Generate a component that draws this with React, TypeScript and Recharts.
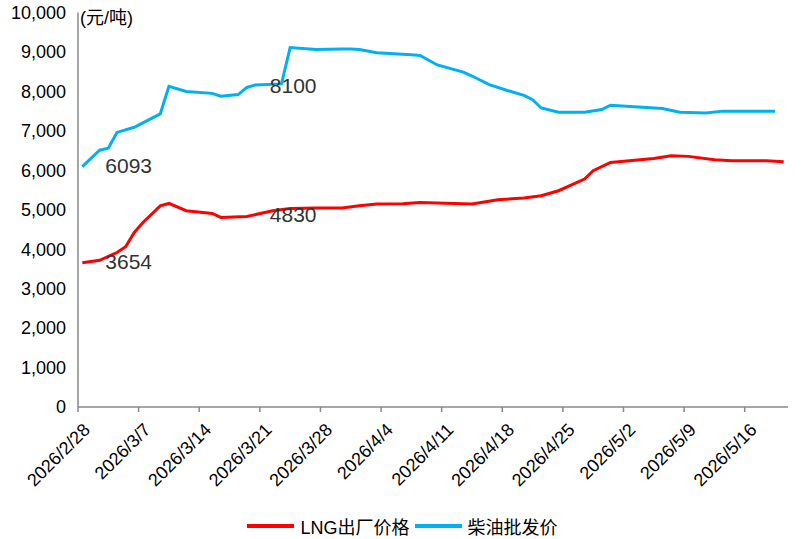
import { LineChart, Line, XAxis, YAxis, Legend, LabelList } from 'recharts';

// 日期轴：2026/2/28 起，按天
const firstDay = '2026/2/28';
const lastDay = '2026/5/20';
const tickDates = [
  '2026/2/28', '2026/3/7', '2026/3/14', '2026/3/21', '2026/3/28', '2026/4/4',
  '2026/4/11', '2026/4/18', '2026/4/25', '2026/5/2', '2026/5/9', '2026/5/16',
];
const yTicks = [0, 1000, 2000, 3000, 4000, 5000, 6000, 7000, 8000, 9000, 10000];
const labelDates = ['2026/2/28', '2026/3/19'];

// LNG出厂价格 (元/吨)
const lngDates = [
  '2026/2/28', '2026/3/2', '2026/3/4', '2026/3/5', '2026/3/6', '2026/3/7', '2026/3/9',
  '2026/3/10', '2026/3/12', '2026/3/15', '2026/3/16', '2026/3/19', '2026/3/22', '2026/3/24',
  '2026/3/27', '2026/3/30', '2026/4/1', '2026/4/3', '2026/4/6', '2026/4/8', '2026/4/14',
  '2026/4/17', '2026/4/20', '2026/4/22', '2026/4/24', '2026/4/27', '2026/4/28', '2026/4/30',
  '2026/5/5', '2026/5/7', '2026/5/9', '2026/5/12', '2026/5/14', '2026/5/18', '2026/5/20',
];
const lngValues = [
  3654, 3720, 3916, 4061, 4424, 4678, 5100,
  5160, 4975, 4906, 4805, 4830, 4975, 5033,
  5043, 5043, 5102, 5144, 5150, 5185, 5144,
  5254, 5296, 5355, 5482, 5779, 5990, 6200,
  6302, 6370, 6353, 6269, 6244, 6244, 6218,
];

// 柴油批发价 (元/吨)
const dieselDates = [
  '2026/2/28', '2026/3/2', '2026/3/3', '2026/3/4', '2026/3/6', '2026/3/9', '2026/3/10',
  '2026/3/12', '2026/3/15', '2026/3/16', '2026/3/18', '2026/3/19', '2026/3/20', '2026/3/23',
  '2026/3/24', '2026/3/27', '2026/3/30', '2026/3/31', '2026/4/1', '2026/4/3', '2026/4/7',
  '2026/4/8', '2026/4/10', '2026/4/13', '2026/4/14', '2026/4/16', '2026/4/18', '2026/4/20',
  '2026/4/21', '2026/4/22', '2026/4/24', '2026/4/27', '2026/4/29', '2026/4/30', '2026/5/6',
  '2026/5/8', '2026/5/11', '2026/5/13', '2026/5/19',
];
const dieselValues = [
  6093, 6510, 6560, 6960, 7090, 7430, 8130,
  8000, 7950, 7880, 7920, 8100, 8165, 8190,
  9110, 9060, 9075, 9075, 9060, 8980, 8926,
  8910, 8670, 8490, 8390, 8170, 8030, 7900,
  7790, 7580, 7470, 7470, 7540, 7650, 7565,
  7470, 7455, 7500, 7500,
];

const LNG_COLOR = '#FF0000';
const DIESEL_COLOR = '#00B0F0';
const AXIS_COLOR = '#898989';
const FONT = '"Liberation Sans", Arial, "Noto Sans CJK SC", sans-serif';

function dayIndex(date: string): number {
  const [y, m, d] = date.split('/').map(Number);
  const [y0, m0, d0] = firstDay.split('/').map(Number);
  return Math.round((Date.UTC(y, m - 1, d) - Date.UTC(y0, m0 - 1, d0)) / 86400000);
}

const toRows = (dates: string[], values: number[]) =>
  dates.map((date, i) => ({ x: dayIndex(date), v: values[i], date }));

const lngData = toRows(lngDates, lngValues);
const dieselData = toRows(dieselDates, dieselValues);

// Excel 日期轴：刻度在日格边界，数据点在日格中间
const xTicks = tickDates.map((d) => dayIndex(d) - 0.5);
const xDomain = [-0.5, dayIndex(lastDay) + 0.5];

function XTick({ x, y, payload }: any) {
  const label = tickDates[xTicks.indexOf(payload.value)] ?? '';
  return (
    <g transform={`translate(${x + 13},${y + 17})`}>
      <text transform="rotate(-45)" textAnchor="end" fill="#000" fontSize={18} fontFamily={FONT}>
        {label}
      </text>
    </g>
  );
}

function makePointLabel(rows: { date: string }[]) {
  return (props: any) => {
    const { x, y, index, value } = props;
    if (!labelDates.includes(rows[index]?.date)) return null;
    return (
      <text
        x={x + 23}
        y={y - 1.5}
        dominantBaseline="central"
        fill="#333"
        fontSize={21}
        fontFamily={FONT}
      >
        {value}
      </text>
    );
  };
}

function LegendContent() {
  const items = [
    { name: 'LNG出厂价格', color: LNG_COLOR },
    { name: '柴油批发价', color: DIESEL_COLOR },
  ];
  return (
    <div style={{ display: 'flex', justifyContent: 'center', alignItems: 'center', height: 26 }}>
      {items.map((it, i) => (
        <div
          key={it.name}
          style={{ display: 'flex', alignItems: 'center', marginLeft: i === 0 ? 0 : 5 }}
        >
          <span
            style={{ width: 47, height: 4, background: it.color, display: 'inline-block', marginRight: 6 }}
          />
          <span style={{ fontSize: 18, fontFamily: FONT, color: '#000' }}>{it.name}</span>
        </div>
      ))}
    </div>
  );
}

export default function App() {
  return (
    <div style={{ position: 'absolute', left: 0, top: 0, width: 805, height: 539, background: '#fff' }}>
      <LineChart width={805} height={539} margin={{ top: 12.5, right: 17, bottom: 0, left: 0 }}>
        <XAxis
          type="number"
          dataKey="x"
          domain={xDomain}
          ticks={xTicks}
          interval={0}
          allowDataOverflow
          height={106}
          tickSize={5}
          tickMargin={2}
          axisLine={{ stroke: AXIS_COLOR, strokeWidth: 1.5 }}
          tickLine={{ stroke: AXIS_COLOR, strokeWidth: 1.5 }}
          tick={<XTick />}
        />
        <YAxis
          type="number"
          domain={[0, 10000]}
          ticks={yTicks}
          interval={0}
          width={78}
          tickSize={0}
          tickMargin={12}
          axisLine={{ stroke: AXIS_COLOR, strokeWidth: 1.5 }}
          tickLine={false}
          tick={{ fill: '#000', fontSize: 18, fontFamily: FONT }}
          tickFormatter={(v: number) => v.toLocaleString('en-US')}
        />
        <Legend
          verticalAlign="bottom"
          content={<LegendContent />}
          wrapperStyle={{ left: 0, width: 805 }}
        />
        <Line
          data={lngData}
          dataKey="v"
          name="LNG出厂价格"
          stroke={LNG_COLOR}
          strokeWidth={3}
          dot={false}
          isAnimationActive={false}
        >
          <LabelList dataKey="v" content={makePointLabel(lngData)} />
        </Line>
        <Line
          data={dieselData}
          dataKey="v"
          name="柴油批发价"
          stroke={DIESEL_COLOR}
          strokeWidth={3}
          dot={false}
          isAnimationActive={false}
        >
          <LabelList dataKey="v" content={makePointLabel(dieselData)} />
        </Line>
        <text x={80} y={17.5} dominantBaseline="central" fontSize={18} fontFamily={FONT} fill="#000">
          (元/吨)
        </text>
      </LineChart>
    </div>
  );
}
